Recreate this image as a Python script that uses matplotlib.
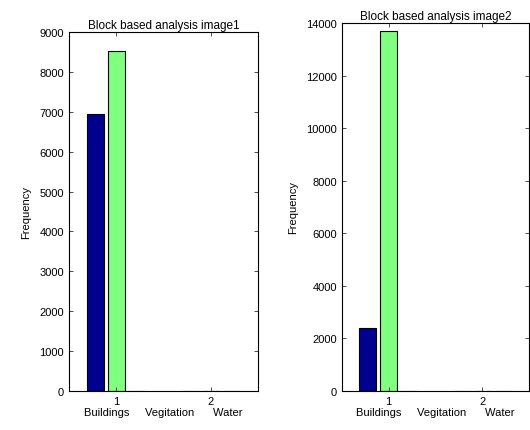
import matplotlib
matplotlib.use("Agg")
import matplotlib.pyplot as plt
import numpy as np

plt.rcParams['font.family'] = ['Liberation Sans', 'DejaVu Sans']

groups = [1, 2]
series_names = ["Buildings", "Vegitation", "Water"]
img1_values = [[6950, 8520, 0], [0, 0, 0]]
img2_values = [[2400, 13700, 0], [0, 0, 0]]
img1_yticks = [0, 1000, 2000, 3000, 4000, 5000, 6000, 7000, 8000, 9000]
img2_yticks = [0, 2000, 4000, 6000, 8000, 10000, 12000, 14000]
titles = ["Block based analysis image1", "Block based analysis image2"]
colors = ["#00008F", "#80FF80", "#800000"]
offsets = [-0.222, 0.0, 0.222]

fig = plt.figure(figsize=(5.3, 4.31), dpi=100)
ax1 = fig.add_axes([0.130, 0.0905, 0.357, 0.833])
ax2 = fig.add_axes([0.645, 0.0905, 0.353, 0.854])

def draw(ax, vals, yticks, title):
    vals = np.array(vals)
    for s in range(vals.shape[1]):
        ax.bar(np.array(groups) + offsets[s], vals[:, s], width=0.18,
               color=colors[s], edgecolor="black", linewidth=0.8)
    ax.set_xlim(0.5, 2.5)
    ax.set_ylim(yticks[0], yticks[-1])
    ax.set_xticks(groups)
    ax.set_yticks(yticks)
    ax.tick_params(direction="in", top=True, right=True, labelsize=8, length=3,
                   width=0.6, colors="#333333", labelcolor="black")
    for sp in ax.spines.values():
        sp.set_linewidth(0.8)
    ax.set_title(title, fontsize=8.5, pad=3)
    ax.set_ylabel("Frequency", fontsize=8, labelpad=6)
    ax.set_xlabel("Buildings     Vegitation      Water", fontsize=8, labelpad=1)

draw(ax1, img1_values, img1_yticks, titles[0])
draw(ax2, img2_values, img2_yticks, titles[1])

fig.savefig("out.png", dpi=100)
